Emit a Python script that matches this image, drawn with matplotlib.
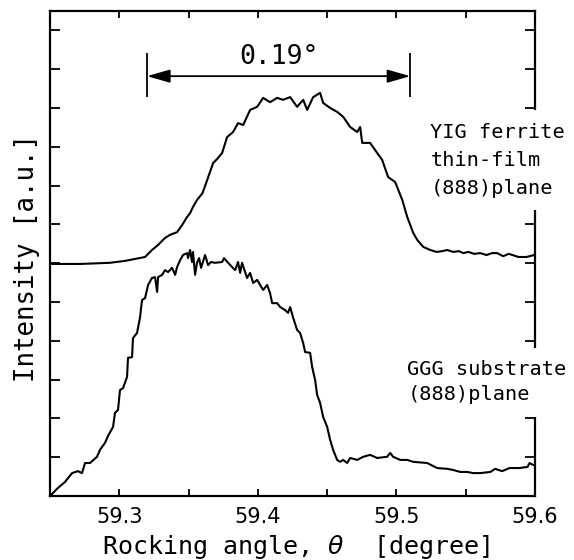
import matplotlib
matplotlib.use("Agg")
import matplotlib.pyplot as plt
from matplotlib.ticker import MultipleLocator

# Rocking curve of the YIG ferrite thin film, (888) reflection
yig_angle = [59.250, 59.2717, 59.2933, 59.3042, 59.3114, 59.3186, 59.3236, 59.3280,
             59.3330, 59.3366, 59.3417, 59.3453, 59.3489, 59.3511, 59.3532, 59.3561,
             59.3600, 59.3634, 59.3677, 59.3710, 59.3742, 59.3778, 59.3821, 59.3857,
             59.3894, 59.3944, 59.3995, 59.4038, 59.4088, 59.4139, 59.4182, 59.4233,
             59.4283, 59.4327, 59.4356, 59.4399, 59.4449, 59.4471, 59.4522, 59.4572,
             59.4616, 59.4666, 59.4717, 59.4738, 59.4753, 59.4810, 59.4861, 59.4897,
             59.4940, 59.4991, 59.5042, 59.5078, 59.5121, 59.5150, 59.5193, 59.5244,
             59.5290, 59.5330, 59.5366, 59.5410, 59.5450, 59.5482, 59.5520, 59.5560,
             59.5605, 59.5650, 59.5690, 59.5727, 59.5770, 59.5810, 59.5838, 59.5880,
             59.5939, 59.5993]
yig_intensity = [5.98, 5.98, 6.01, 6.06, 6.11, 6.16, 6.34, 6.47,
                 6.65, 6.73, 6.80, 6.98, 7.19, 7.29, 7.45, 7.63,
                 7.80, 8.14, 8.58, 8.70, 8.84, 9.25, 9.38, 9.61,
                 9.56, 9.95, 10.03, 10.26, 10.15, 10.26, 10.21, 10.28,
                 10.03, 10.21, 9.95, 10.28, 10.39, 10.13, 10.00, 9.90,
                 9.77, 9.51, 9.38, 9.51, 9.10, 9.10, 8.84, 8.66,
                 8.22, 8.09, 7.63, 7.19, 6.78, 6.60, 6.42, 6.34,
                 6.29, 6.31, 6.34, 6.29, 6.31, 6.26, 6.29, 6.24,
                 6.26, 6.21, 6.26, 6.26, 6.18, 6.24, 6.21, 6.16,
                 6.16, 6.21]

# Rocking curve of the GGG substrate, (888) reflection
ggg_angle = [59.2500, 59.2558, 59.2608, 59.2659, 59.2702, 59.2731, 59.2753, 59.2789,
             59.2839, 59.2861, 59.2897, 59.2919, 59.2955, 59.2969, 59.2991, 59.3005,
             59.3027, 59.3056, 59.3063, 59.3092, 59.3099, 59.3128, 59.3150, 59.3164,
             59.3186, 59.3208, 59.3236, 59.3258, 59.3273, 59.3280, 59.3309, 59.3330,
             59.3352, 59.3381, 59.3403, 59.3417, 59.3439, 59.3460, 59.3489, 59.3496,
             59.3511, 59.3525, 59.3532, 59.3547, 59.3561, 59.3576, 59.3590, 59.3619,
             59.3641, 59.3662, 59.3691, 59.3742, 59.3756, 59.3785, 59.3814, 59.3836,
             59.3857, 59.3872, 59.3886, 59.3908, 59.3922, 59.3944, 59.3966, 59.3995,
             59.4016, 59.4038, 59.4067, 59.4088, 59.4103, 59.4139, 59.4161, 59.4197,
             59.4218, 59.4233, 59.4255, 59.4283, 59.4305, 59.4327, 59.4341, 59.4377,
             59.4392, 59.4413, 59.4428, 59.4449, 59.4471, 59.4500, 59.4522, 59.4543,
             59.4572, 59.4594, 59.4616, 59.4644, 59.4666, 59.4717, 59.4760, 59.4810,
             59.4861, 59.4933, 59.4955, 59.4976, 59.5027, 59.5078, 59.5121, 59.5222,
             59.5294, 59.5366, 59.5410, 59.5460, 59.5511, 59.5554, 59.5605, 59.5677,
             59.5713, 59.5762, 59.5816, 59.5888, 59.5946, 59.5960, 59.5986]
ggg_intensity = [0.00, 0.21, 0.36, 0.59, 0.64, 0.59, 0.85, 0.85,
                 1.01, 1.19, 1.37, 1.55, 1.78, 2.14, 2.22, 2.73,
                 2.78, 3.07, 3.56, 3.58, 4.07, 4.20, 4.61, 5.05,
                 5.10, 5.44, 5.62, 5.64, 5.26, 5.64, 5.70, 5.82,
                 5.77, 5.88, 5.70, 5.90, 6.08, 6.21, 6.26, 6.13,
                 6.34, 6.03, 6.29, 5.70, 6.01, 6.13, 5.88, 6.21,
                 5.95, 6.03, 6.01, 6.03, 6.13, 6.01, 5.90, 5.82,
                 6.03, 5.75, 6.01, 5.77, 5.62, 5.75, 5.49, 5.57,
                 5.44, 5.31, 5.44, 5.23, 4.97, 4.97, 4.87, 4.79,
                 4.72, 4.87, 4.59, 4.28, 4.20, 3.94, 3.71, 3.69,
                 3.32, 2.99, 2.60, 2.40, 2.04, 1.78, 1.44, 1.19,
                 0.93, 0.88, 0.93, 0.85, 0.98, 0.93, 1.01, 1.06,
                 0.98, 1.01, 1.11, 1.01, 0.93, 0.93, 0.88, 0.85,
                 0.72, 0.70, 0.67, 0.62, 0.62, 0.59, 0.59, 0.62,
                 0.70, 0.64, 0.72, 0.72, 0.75, 0.85, 0.80]

x_ticks = [59.3, 59.4, 59.5, 59.6]
x_tick_labels = ["59.3", "59.4", "59.5", "59.6"]

# Width of the film peak
fwhm_left, fwhm_right = 59.32, 59.51
fwhm_label = "0.19°"

yig_label = "YIG ferrite\nthin-film\n(888)plane"
ggg_label = "GGG substrate\n(888)plane"

MONO = "DejaVu Sans Mono"

fig = plt.figure(figsize=(5.74, 5.60), dpi=100)
ax = fig.add_axes([0.0871, 0.1143, 0.8450, 0.8661])

ax.plot(yig_angle, yig_intensity, color="black", lw=1.5)
ax.plot(ggg_angle, ggg_intensity, color="black", lw=1.5)

ax.set_xlim(59.25, 59.6)
ax.set_ylim(0, 12.5)
ax.set_xticks(x_ticks, x_tick_labels)
ax.xaxis.set_minor_locator(MultipleLocator(0.05))
ax.yaxis.set_major_locator(MultipleLocator(1))
ax.tick_params(axis="x", which="both", direction="in", top=True, bottom=True,
               length=5, width=1.3, labelsize=15, pad=8)
ax.tick_params(axis="y", which="both", direction="in", left=True, right=True,
               labelleft=False, length=7, width=1.3)
for sp in ax.spines.values():
    sp.set_linewidth(1.6)

# FWHM marker
ax.vlines([fwhm_left, fwhm_right], 10.28, 11.42, color="black", lw=1.3)
ax.annotate("", xy=(fwhm_left, 10.82), xytext=(fwhm_right, 10.82),
            arrowprops=dict(arrowstyle="<|-|>,head_length=0.7,head_width=0.2",
                            mutation_scale=20, color="black", lw=1.3,
                            shrinkA=0, shrinkB=0))
ax.text((fwhm_left + fwhm_right) / 2, 11.31, fwhm_label, ha="center", va="center",
        family=MONO, fontsize=19)

# Curve labels, drawn over the right spine
ax.text(59.5244, 9.62, yig_label, ha="left", va="top", family=MONO, fontsize=14.6,
        linespacing=1.6, clip_on=False, zorder=10,
        bbox=dict(facecolor="white", edgecolor="none", pad=9))
ax.text(59.5078, 3.50, ggg_label, ha="left", va="top", family=MONO, fontsize=14.6,
        linespacing=1.4, clip_on=False, zorder=10,
        bbox=dict(facecolor="white", edgecolor="none", pad=9))

fig.text(27 / 574, 1 - 258 / 560, "Intensity [a.u.]", rotation=90, ha="center",
         va="center", family=MONO, fontsize=18.5)
fig.text(0.515, 1 - 547 / 560, "Rocking angle, $\\theta$  [degree]", ha="center",
         va="center", family=MONO, fontsize=18)

fig.savefig("out.png", dpi=100)
